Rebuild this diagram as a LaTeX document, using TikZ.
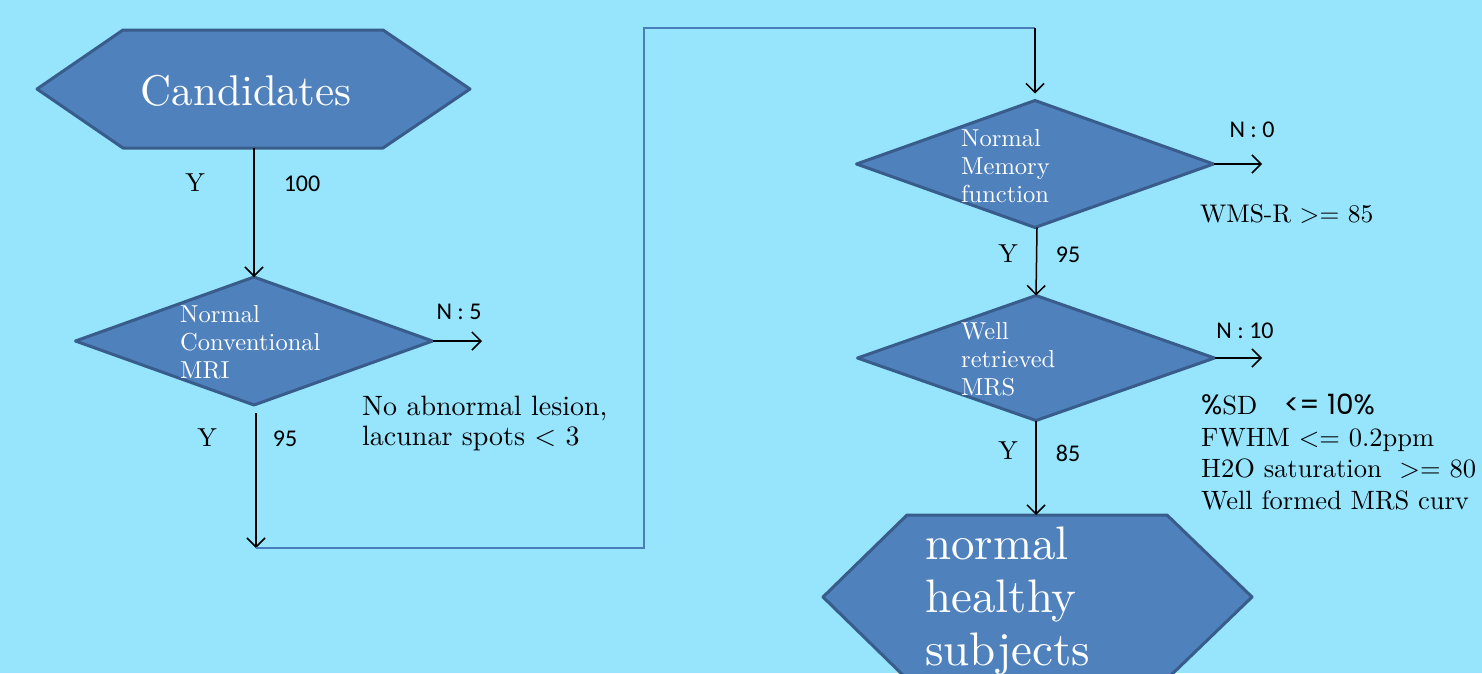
\documentclass[tikz,border=0pt]{standalone}
\usepackage{fontspec}
\setmainfont{lmroman10-regular.otf}
\newfontfamily\calfont{Carlito}
\newfontfamily\popfont{Poppins}
\usetikzlibrary{shapes.geometric,arrows.meta}
\definecolor{bg}{RGB}{151,228,253}
\definecolor{boxfill}{RGB}{79,129,189}
\definecolor{boxline}{RGB}{56,93,138}
\definecolor{linkblue}{RGB}{74,126,187}
\begin{document}
\begin{tikzpicture}[x=1pt,y=-1pt,
  shapebox/.style={fill=boxfill,draw=boxline,line width=3pt,line join=round},
  decision/.style={shapebox,diamond,minimum width=357pt,minimum height=127pt,inner sep=0pt,outer sep=0pt},
  flow/.style={draw=black,line width=1.5pt,-{Straight Barb[length=9pt,width=18pt]}},
  bluelink/.style={draw=linkblue,line width=1.2pt},
  boxtext/.style={text=white,align=left,inner sep=0pt,font=\fontsize{24.5}{28}\selectfont},
  bigtext/.style={text=white,align=left,inner sep=0pt},
  lbl/.style={inner sep=0pt,font=\fontsize{26}{30}\selectfont},
  num/.style={inner sep=0pt,font=\calfont\fontsize{24}{30}\selectfont}
]
\useasboundingbox (0,0) rectangle (1482,673);
\fill[bg] (0,0) rectangle (1482,673);
\clip (0,0) rectangle (1482,673);

% Candidates hexagon
\draw[shapebox] (37,89) -- (123,30) -- (383,30) -- (470,89) -- (383,148) -- (123,148) -- cycle;
\coordinate (candS) at (254,148);
\node[bigtext,font=\fontsize{43}{50}\selectfont] (cand) at (246,91) {Candidates};

% decision 1
\node[decision,minimum height=128pt] (d1) at (254,341) {};
\node[boxtext,anchor=west] (d1t) at (180,342) {Normal\\Conventional\\MRI};
\coordinate (n5) at (482,341);
\coordinate (c1) at (256,548);
\coordinate (c2) at (644,28);
\coordinate (t1) at (1035,28);

% decision 2
\node[decision] (d2) at (1035,164) {};
\node[boxtext,anchor=west] (d2t) at (961,166) {Normal\\Memory\\function};
\coordinate (n0) at (1262,164);

% decision 3
\node[decision,minimum height=125pt] (d3) at (1036,358) {};
\node[boxtext,anchor=west] (d3t) at (961,359) {Well\\retrieved\\MRS};
\coordinate (n10) at (1262,358);

% final hexagon
\draw[shapebox] (823,597) -- (907,515) -- (1167,515) -- (1252,597) -- (1167,679) -- (907,679) -- cycle;
\coordinate (finN) at (1036,515);
\node[bigtext,anchor=north west,font=\fontsize{47}{53}\selectfont] (fin) at (925,527) {normal\\healthy\\subjects};

% connectors
\draw[flow] (candS) -- (d1.north);
\draw[flow] (d1.east) -- (n5);
\draw[flow] ([xshift=2pt,yshift=-8pt]d1.south) -- (c1);
\draw[bluelink] (c1) -| (c2) -- (t1);
\draw[flow,shorten >=7pt] (t1) -- (d2.north);
\draw[flow] ([xshift=2pt]d2.south) -- (d3.north);
\draw[flow] (d2.east) -- (n0);
\draw[flow] (d3.east) -- (n10);
\draw[flow] (d3.south) -- (finN);

% labels
\node[lbl] (y1) at (195,183) {Y};
\node[num] (v1) at (302,184) {100};
\node[num] (no1) at (459,312) {N : 5};
\node[lbl] (y2) at (207,438) {Y};
\node[num] (v2) at (285,439) {95};
\node[lbl,align=left,anchor=west,font=\fontsize{28}{30}\selectfont] (crit1) at (362,423) {No abnormal lesion,\\lacunar spots < 3};

\node[num] (no2) at (1252,130) {N : 0};
\node[lbl,anchor=west,font=\fontsize{25.5}{30}\selectfont] (crit2) at (1200,214) {WMS-R >= 85};
\node[lbl] (y3) at (1008,254) {Y};
\node[num] (v3) at (1068,255) {95};

\node[num] (no3) at (1245,331) {N : 10};
\node[lbl,align=left,anchor=west,font=\fontsize{26.5}{31.5}\selectfont] (crit3) at (1201,452)
  {{\popfont\fontsize{28}{31.5}\selectfont\%}SD\quad{\popfont\fontsize{28}{31.5}\selectfont<= 10\%}\\
   FWHM <= 0.2ppm\\
   H2O saturation\ \ >= 80\\
   Well formed MRS curv};
\node[lbl] (y4) at (1008,451) {Y};
\node[num] (v4) at (1068,453) {85};
\end{tikzpicture}
\end{document}
